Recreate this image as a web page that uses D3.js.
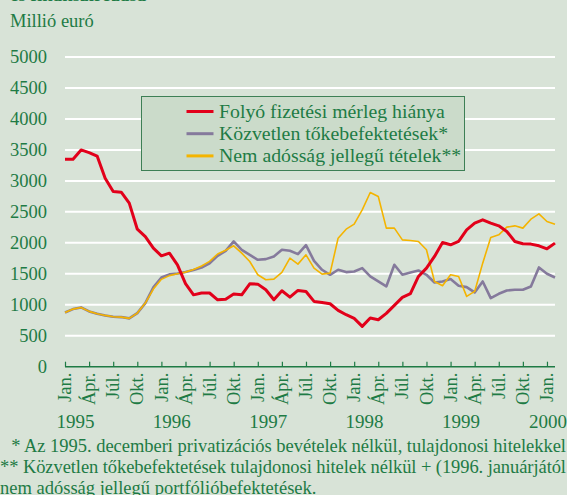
<!DOCTYPE html>
<html>
<head>
<meta charset="utf-8">
<script src="https://cdn.jsdelivr.net/npm/d3@7/dist/d3.min.js"></script>
<style>
  body { margin: 0; background: #d8e3d7; }
  svg { display: block; font-family: "Liberation Serif", "Times New Roman", serif; }
</style>
</head>
<body>
<svg width="567" height="495"></svg>
<script>
// monthly values, Jan 1995 .. Feb 2000 (million euro)
const currentAccount = [
  3350, 3350, 3500, 3457, 3400, 3043, 2828, 2817, 2640, 2220, 2100, 1914,
  1790, 1833, 1645, 1340, 1160, 1190, 1190, 1080, 1090, 1172, 1161, 1338,
  1333, 1242, 1081, 1226, 1124, 1231, 1215, 1054, 1038, 1016, 909, 839,
  780, 651, 785, 758, 860, 990, 1120, 1180, 1457, 1591, 1780, 2005,
  1968, 2022, 2210, 2317, 2371, 2317, 2274, 2183, 2022, 1984, 1979, 1952,
  1903, 1995
];
const directInvestment = [
  876, 930, 957, 893, 855, 828, 807, 801, 780, 866, 1027, 1280,
  1440, 1490, 1505, 1530, 1560, 1600, 1670, 1790, 1870, 2022, 1887, 1806,
  1726, 1737, 1780, 1887, 1871, 1817, 1962, 1710, 1565, 1484, 1565, 1527,
  1538, 1592, 1457, 1376, 1296, 1645, 1484, 1522, 1554, 1484, 1360, 1376,
  1414, 1307, 1285, 1199, 1376, 1108, 1177, 1231, 1242, 1242, 1296, 1602,
  1500, 1441
];
const nonDebtItems = [
  876, 930, 957, 893, 855, 828, 807, 801, 780, 866, 1027, 1253,
  1410, 1470, 1500, 1527, 1570, 1625, 1700, 1820, 1880, 1952, 1833, 1699,
  1484, 1403, 1414, 1522, 1753, 1656, 1806, 1591, 1495, 1511, 2075, 2220,
  2301, 2532, 2812, 2747, 2237, 2237, 2048, 2038, 2022, 1887, 1376, 1307,
  1484, 1457, 1135, 1215, 1672, 2086, 2129, 2253, 2274, 2237, 2382, 2468,
  2344, 2301
];
const seriesNames = [
  "Folyó fizetési mérleg hiánya",
  "Közvetlen tőkebefektetések*",
  "Nem adósság jellegű tételek**"
];
const monthLabels = ["Jan.", "Ápr.", "Júl.", "Okt."];
const years = ["1995", "1996", "1997", "1998", "1999", "2000"];
const yTicks = [0, 500, 1000, 1500, 2000, 2500, 3000, 3500, 4000, 4500, 5000];
const footnotes = [
  "\u00a0\u00a0* Az 1995. decemberi privatizációs bevételek nélkül, tulajdonosi hitelekkel",
  "** Közvetlen tőkebefektetések tulajdonosi hitelek nélkül + (1996. januárjától",
  "nem adósság jellegű portfólióbefektetések."
];

const green = "#1e7b45";
const colors = ["#e2001a", "#857a9c", "#f4b400"];
const widths = [3, 2.6, 1.6];
const font = "Liberation Serif, Times New Roman, serif";

const svg = d3.select("svg");
const W = 567;

const x = d3.scaleLinear().domain([0, currentAccount.length - 1]).range([65, 555]);
const y = d3.scaleLinear().domain([0, 5000]).range([366.7, 57]);

// title remnant + unit
svg.append("text").attr("x", 10).attr("y", 1)
  .attr("font-size", 19).attr("font-weight", "bold").attr("fill", green)
  .text("és finanszírozása");
svg.append("text").attr("x", 10).attr("y", 27)
  .attr("font-size", 18.5).attr("fill", green).text("Millió euró");

// gridlines
svg.append("g").selectAll("line")
  .data(yTicks.filter(d => d > 0))
  .join("line")
  .attr("x1", x.range()[0]).attr("x2", x.range()[1])
  .attr("y1", d => y(d)).attr("y2", d => y(d))
  .attr("stroke", "#fff").attr("stroke-width", 2);

// y labels
const yAxis = svg.append("g")
  .attr("transform", "translate(47,0)")
  .call(d3.axisLeft(y).tickValues(yTicks).tickSize(0).tickPadding(0).tickFormat(d3.format("d")))
  .attr("font-family", font).attr("font-size", 18.5);
yAxis.select(".domain").remove();
yAxis.selectAll("text").attr("fill", green);

// x axis
const quarterTicks = d3.range(0, currentAccount.length - 1, 3);
const xAxis = svg.append("g")
  .attr("transform", `translate(0,${y(0)})`)
  .call(d3.axisTop(x).tickValues(quarterTicks).tickSize(5).tickFormat(""));
xAxis.select(".domain").attr("d", `M${x.range()[0]},0H${x.range()[1]}`)
  .attr("stroke", green).attr("stroke-width", 1.5);
xAxis.selectAll(".tick line").attr("stroke", green).attr("stroke-width", 1.2);

svg.append("g").selectAll("text")
  .data(quarterTicks)
  .join("text")
  .attr("transform", d => `translate(${x(d)},${y(0) + 6}) rotate(-90)`)
  .attr("text-anchor", "end").attr("dy", "0.33em")
  .attr("font-size", 18.5).attr("fill", green)
  .text(d => monthLabels[(d / 3) % 4]);

svg.append("g").selectAll("text")
  .data(years)
  .join("text")
  .attr("x", (d, i) => i < years.length - 1 ? x(i * 12 + 1.3) : W)
  .attr("y", 428)
  .attr("text-anchor", (d, i) => i < years.length - 1 ? "middle" : "end")
  .attr("font-size", 19).attr("fill", green)
  .text(d => d);

// lines: purple first, then yellow, red on top
const line = d3.line().x((d, i) => x(i)).y(d => y(d));
const drawOrder = [1, 2, 0];
const allSeries = [currentAccount, directInvestment, nonDebtItems];
svg.append("g").selectAll("path")
  .data(drawOrder)
  .join("path")
  .attr("d", k => line(allSeries[k]))
  .attr("fill", "none")
  .attr("stroke", k => colors[k])
  .attr("stroke-width", k => widths[k])
  .attr("stroke-linejoin", "round");

// legend
const lg = svg.append("g");
lg.append("rect").attr("x", 141.5).attr("y", 96.5).attr("width", 323).attr("height", 74)
  .attr("fill", "#cbdbca").attr("stroke", "#3d7f55").attr("stroke-width", 1);
seriesNames.forEach((name, i) => {
  const cy = 111.5 + i * 22.2;
  lg.append("line").attr("x1", 186.5).attr("x2", 213.5).attr("y1", cy).attr("y2", cy)
    .attr("stroke", colors[i]).attr("stroke-width", 3);
  lg.append("text").attr("x", 219).attr("y", cy).attr("dy", "0.33em")
    .attr("font-size", 19.8).attr("fill", green).text(name);
});

// footnotes (first two lines are justified to the page width)
svg.append("g").selectAll("text")
  .data(footnotes)
  .join("text")
  .attr("x", (d, i) => i === 0 ? 2 : 0)
  .attr("y", (d, i) => [452, 473, 494][i])
  .attr("font-size", 18.5).attr("fill", green)
  .each(function (d, i) {
    if (i < 2) d3.select(this).attr("textLength", i === 0 ? 564 : 566).attr("lengthAdjust", "spacing");
  })
  .text(d => d);
</script>
</body>
</html>
